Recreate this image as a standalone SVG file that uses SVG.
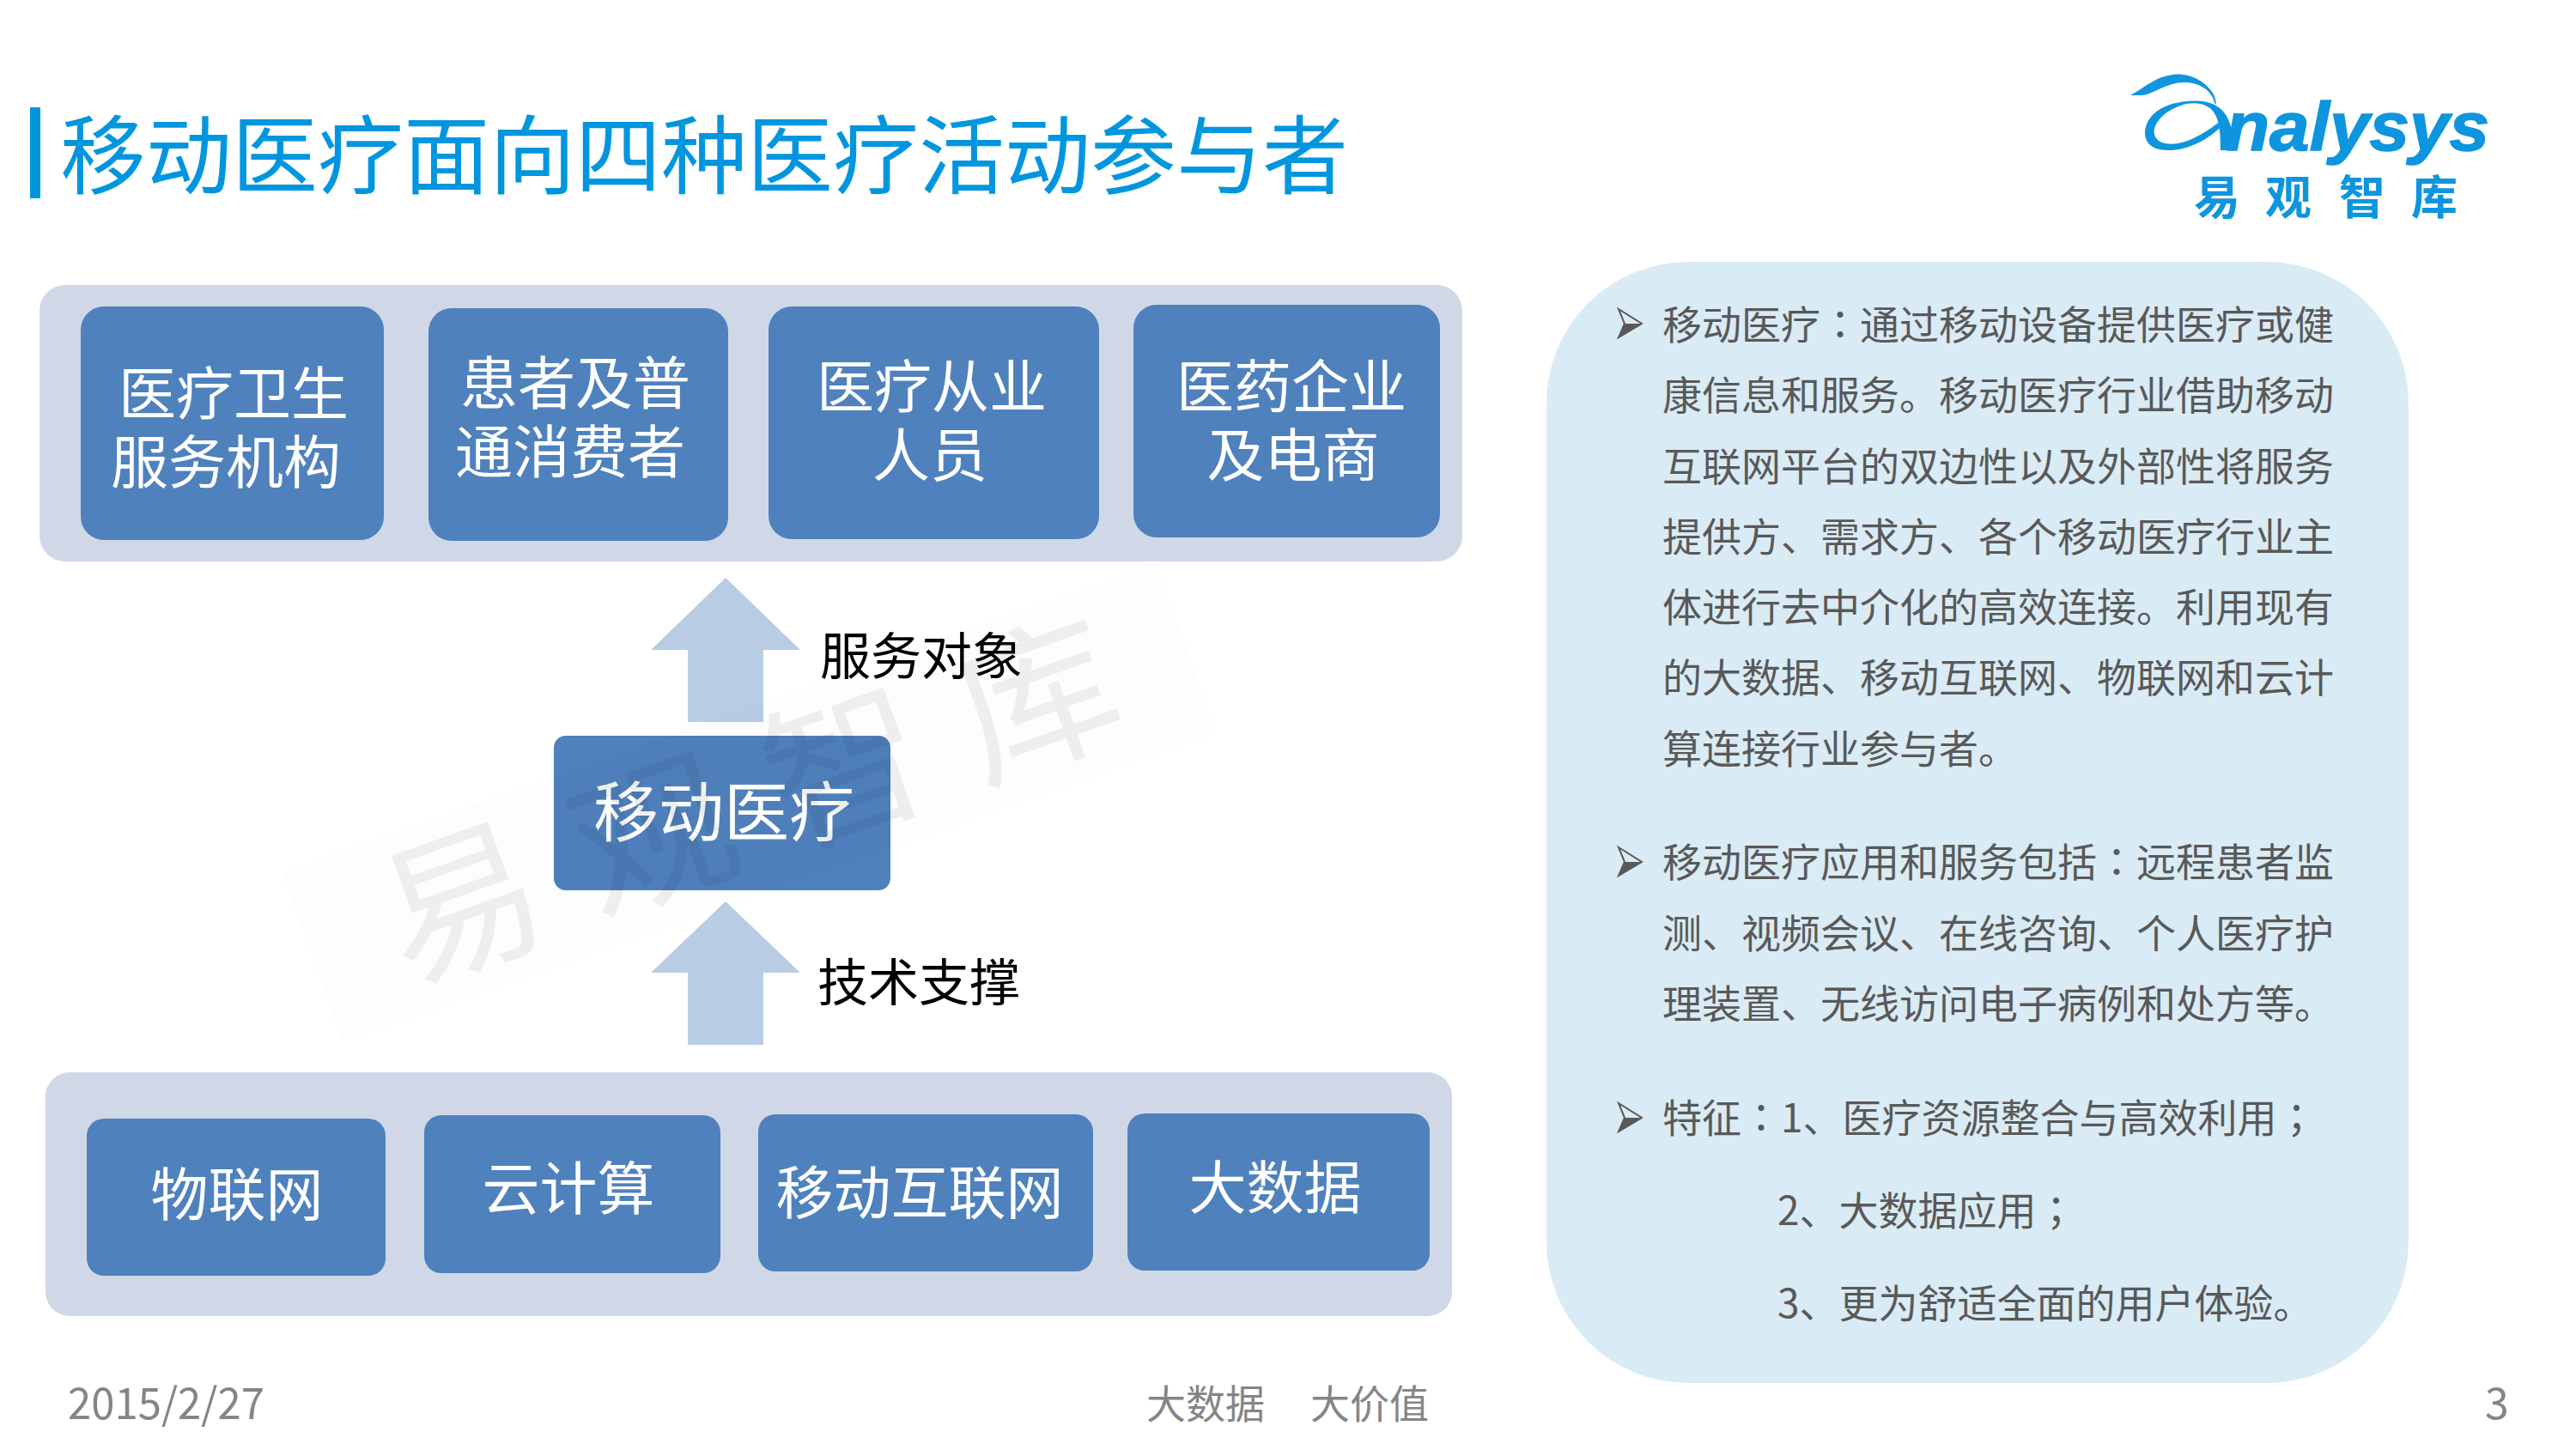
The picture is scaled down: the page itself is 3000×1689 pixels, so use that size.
<svg xmlns="http://www.w3.org/2000/svg" xmlns:xlink="http://www.w3.org/1999/xlink" width="3000" height="1689" viewBox="0 0 3000 1689">
<style>
text{font-family:"Noto Sans CJK SC","Liberation Sans",sans-serif}
.panel{fill:#d0d8e8}
.node{fill:#4f81bd}
.nt{fill:#fff;font-size:67px;text-anchor:middle}
.arrow{fill:#b8cce4}
.lbl{fill:#000;font-size:59px}
.body{fill:#595959;font-size:46px}
.col{font-family:"Noto Sans CJK TC","Noto Sans CJK SC",sans-serif}
.foot{fill:#858585;font-size:46px}
.logo{fill:#0e95de}
.blt-o{fill:none;stroke:#595959;stroke-width:2}
.blt-f{fill:#595959}
</style>
<defs>
<g id="bullet"><path class="blt-o" d="M1 -34L28 -17L1 -1L8 -17Z"/><path class="blt-f" d="M8 -17H28L1 -1Z"/></g>
</defs>
<rect width="3000" height="1689" fill="#fff"/>
<g id="title">
<rect x="35" y="125" width="12" height="106" fill="#0096df"/>
<text x="70" y="218" font-size="100" fill="#0096df">移动医疗面向四种医疗活动参与者</text>
</g>
<g id="logo">
<path class="logo" d="M2481 111C2500 100 2512 89 2530 87C2552 84 2570 96 2578 110C2583 122 2580 126 2578 116C2572 100 2552 93 2534 97C2516 101 2505 110 2495 111Z"/>
<path class="logo" d="M2600 175H2586C2586 150 2584 135 2574 126C2560 116 2538 120 2522 132C2506 145 2504 160 2518 166C2535 172 2560 162 2587 140L2588 146C2565 170 2535 178 2515 174C2495 170 2494 150 2505 136C2518 120 2545 116 2565 118C2590 121 2602 140 2600 175Z"/>
<text class="logo" x="2592" y="175" font-size="80" font-weight="700" font-style="italic" stroke="#0e95de" stroke-width="1.5" style="font-family:'Liberation Sans',sans-serif" textLength="307" lengthAdjust="spacingAndGlyphs">nalysys</text>
<text class="logo" y="250" font-size="54" font-weight="700"><tspan x="2555">易</tspan><tspan x="2638">观</tspan><tspan x="2724">智</tspan><tspan x="2808">库</tspan></text>
</g>
<g id="panel-top"><rect class="panel" x="46" y="332" width="1657" height="322" rx="30"/></g>
<g id="node-yiliao-weisheng"><rect class="node" x="94" y="357" width="353" height="272" rx="27"/><text class="nt"><tspan x="272" y="483">医疗卫生</tspan><tspan x="263" y="563">服务机构</tspan></text></g>
<g id="node-huanzhe"><rect class="node" x="499" y="359" width="349" height="271" rx="27"/><text class="nt"><tspan x="670" y="471">患者及普</tspan><tspan x="664" y="551">通消费者</tspan></text></g>
<g id="node-congye"><rect class="node" x="895" y="357" width="385" height="271" rx="27"/><text class="nt"><tspan x="1085" y="475">医疗从业</tspan><tspan x="1083" y="555">人员</tspan></text></g>
<g id="node-yiyao"><rect class="node" x="1320" y="355" width="357" height="271" rx="27"/><text class="nt"><tspan x="1504" y="475">医药企业</tspan><tspan x="1506" y="555">及电商</tspan></text></g>
<g id="panel-bottom"><rect class="panel" x="53" y="1249" width="1638" height="284" rx="28"/></g>
<g id="node-wulianwang"><rect class="node" x="101" y="1303" width="348" height="183" rx="20"/><text class="nt" x="276" y="1416">物联网</text></g>
<g id="node-yunjisuan"><rect class="node" x="494" y="1299" width="345" height="184" rx="20"/><text class="nt" x="662" y="1409">云计算</text></g>
<g id="node-hulianwang"><rect class="node" x="883" y="1298" width="390" height="183" rx="20"/><text class="nt" x="1071" y="1414">移动互联网</text></g>
<g id="node-dashuju"><rect class="node" x="1313" y="1297" width="352" height="183" rx="20"/><text class="nt" x="1485" y="1408">大数据</text></g>
<g id="node-center"><rect class="node" x="645" y="857" width="392" height="180" rx="14"/><text class="nt" x="843" y="974" style="font-size:76px">移动医疗</text></g>
<g id="connectors">
<path class="arrow" d="M845 673L932 757H889V841H801V757H758Z"/>
<path class="arrow" d="M845 1050L932 1133H889V1217H801V1133H758Z"/>
</g>
<g id="labels">
<text class="lbl" x="955" y="786">服务对象</text>
<text class="lbl" x="952" y="1166">技术支撑</text>
</g>
<g id="watermark" transform="translate(873 935) rotate(-19.5)">
<rect x="-540" y="-105" width="1080" height="210" fill="#000" opacity=".006"/>
<text x="-448" y="66" font-size="185" fill="#000" opacity=".055" letter-spacing="52">易观智库</text>
</g>
<g id="info-panel">
<rect x="1801" y="305" width="1004" height="1306" rx="165" fill="#d9ebf4"/>
<use xlink:href="#bullet" href="#bullet" x="1884" y="394"/>
<use xlink:href="#bullet" href="#bullet" x="1884" y="1021"/>
<use xlink:href="#bullet" href="#bullet" x="1884" y="1319"/>
<text class="body">
<tspan x="1936" y="395">移动医疗<tspan class="col">：</tspan>通过移动设备提供医疗或健</tspan>
<tspan x="1936" y="477">康信息和服务。移动医疗行业借助移动</tspan>
<tspan x="1936" y="560">互联网平台的双边性以及外部性将服务</tspan>
<tspan x="1936" y="642">提供方、需求方、各个移动医疗行业主</tspan>
<tspan x="1936" y="724">体进行去中介化的高效连接。利用现有</tspan>
<tspan x="1936" y="806">的大数据、移动互联网、物联网和云计</tspan>
<tspan x="1936" y="889">算连接行业参与者。</tspan>
<tspan x="1936" y="1021">移动医疗应用和服务包括<tspan class="col">：</tspan>远程患者监</tspan>
<tspan x="1936" y="1104">测、视频会议、在线咨询、个人医疗护</tspan>
<tspan x="1936" y="1186">理装置、无线访问电子病例和处方等。</tspan>
<tspan x="1936" y="1319">特征<tspan class="col">：</tspan>1、医疗资源整合与高效利用<tspan class="col">；</tspan></tspan>
<tspan x="2070" y="1427">2、大数据应用<tspan class="col">；</tspan></tspan>
<tspan x="2070" y="1535">3、更为舒适全面的用户体验。</tspan>
</text>
</g>
<g id="footer">
<text class="foot" x="79" y="1653" style="font-size:50px" textLength="229" lengthAdjust="spacingAndGlyphs">2015/2/27</text>
<text class="foot" y="1652"><tspan x="1335">大数据</tspan><tspan x="1526">大价值</tspan></text>
<text class="foot" x="2894" y="1653" style="font-size:50px">3</text>
</g>
</svg>
